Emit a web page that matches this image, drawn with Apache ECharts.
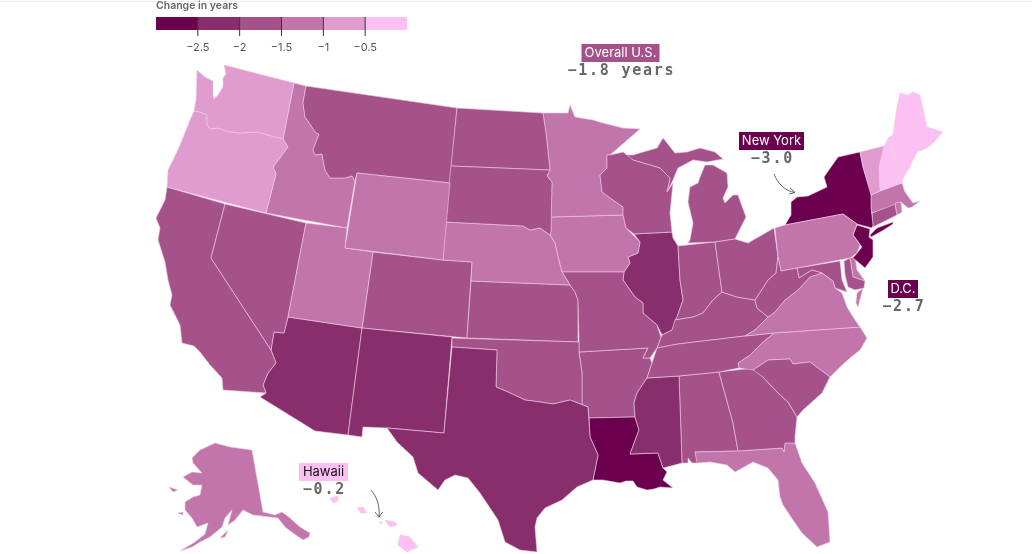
<!DOCTYPE html>
<html><head><meta charset="utf-8">
<style>html,body{margin:0;padding:0;background:#fff}#c{width:1032px;height:554px}</style>
<script src="https://cdn.jsdelivr.net/npm/echarts@6/dist/echarts.min.js"></script>
</head><body><div id="c"></div>
<script>
const stateNames=["Alabama","Alaska","Arizona","Arkansas","California","Colorado","Connecticut","Delaware","D.C.","Florida","Georgia","Hawaii","Idaho","Illinois","Indiana","Iowa","Kansas","Kentucky","Louisiana","Maine","Maryland","Massachusetts","Michigan","Minnesota","Mississippi","Missouri","Montana","Nebraska","Nevada","New Hampshire","New Jersey","New Mexico","New York","North Carolina","North Dakota","Ohio","Oklahoma","Oregon","Pennsylvania","Rhode Island","South Carolina","South Dakota","Tennessee","Texas","Utah","Vermont","Virginia","Washington","West Virginia","Wisconsin","Wyoming"];
const stateValues=[-1.7,-1.3,-2.2,-1.8,-1.8,-1.7,-1.7,-1.4,-2.7,-1.4,-1.7,-0.2,-1.3,-2.1,-1.8,-1.3,-1.7,-1.7,-2.6,-0.4,-1.9,-1.2,-1.8,-1.3,-2.2,-1.8,-1.7,-1.3,-1.8,-0.4,-2.8,-2.2,-3.0,-1.4,-1.7,-1.8,-1.7,-0.9,-1.4,-1.4,-1.7,-1.7,-1.7,-2.2,-1.3,-0.9,-1.4,-0.8,-1.8,-1.7,-1.3];
const legendTicks=[-2.5,-2,-1.5,-1,-0.5];
const legendColors=["#6b004e","#882e6c","#a6528a","#c175aa","#e09ccf","#fdc0f2"];
const legendMin=-3, legendMax=0;

// Simplified state outlines (the base map the library projects); one list per polygon.
const outlines={
"Washington":[[[224,65],[294,83],[283,139],[257,132],[240,133],[230,132],[218,128],[210,129],[207,125],[207,115],[200,112],[194,111],[196,100],[197,70],[205,77],[213,81],[213,95],[214,99],[218,95],[223,87],[223,78],[226,74]]],
"Oregon":[[[194,111],[200,112],[207,115],[207,125],[210,129],[218,128],[230,132],[240,133],[257,132],[283,139],[288,147],[273,167],[276,174],[266,213],[167,187],[168,170],[174,158],[180,145],[190,120]]],
"California":[[[167,187],[225,204],[211,258],[271,350],[276,363],[268,373],[263,385],[266,393],[223,390],[222,378],[210,365],[200,352],[194,346],[182,343],[180,325],[170,305],[172,295],[168,280],[165,262],[158,240],[160,228],[156,218],[165,200]]],
"Nevada":[[[225,204],[306,223],[288,317],[284,333],[274,332],[271,350],[211,258]]],
"Idaho":[[[294,83],[306,86],[303,103],[305,117],[316,133],[319,134],[313,150],[315,155],[322,154],[325,170],[330,178],[345,178],[352,176],[355,181],[347,228],[266,213],[276,174],[273,167],[288,147],[283,139]]],
"Montana":[[[306,86],[457,108],[450,183],[357,173],[355,181],[352,176],[345,178],[330,178],[325,170],[322,154],[315,155],[313,150],[319,134],[316,133],[305,117],[303,103]]],
"Wyoming":[[[357,173],[450,183],[443,260],[345,248]]],
"Utah":[[[306,223],[347,228],[345,248],[373,252],[362,328],[288,317]]],
"Colorado":[[[373,252],[443,260],[472,262],[467,338],[362,328]]],
"Arizona":[[[288,317],[284,333],[274,332],[271,350],[276,363],[268,373],[263,385],[266,393],[260,397],[315,431],[348,435],[362,328]]],
"New Mexico":[[[362,328],[452,337],[444,433],[388,428],[363,427],[362,437],[348,435]]],
"Texas":[[[452,347],[497,350],[496,387],[508,392],[525,400],[540,402],[553,404],[570,400],[588,407],[590,437],[598,455],[593,480],[577,487],[562,500],[545,508],[537,518],[535,527],[537,552],[520,550],[505,542],[498,520],[480,493],[468,478],[455,475],[445,480],[438,490],[418,473],[413,457],[397,442],[387,428],[444,433]]],
"Oklahoma":[[[452,338],[579,342],[579,352],[582,373],[582,405],[588,407],[570,400],[553,404],[540,402],[525,400],[508,392],[496,387],[497,350],[452,347]]],
"Kansas":[[[471,281],[570,285],[575,292],[578,300],[578,342],[467,338]]],
"Nebraska":[[[445,222],[523,226],[530,230],[540,228],[550,235],[555,243],[558,257],[562,272],[570,285],[471,281],[472,262],[443,260]]],
"South Dakota":[[[451,166],[550,170],[547,176],[552,182],[551,232],[550,235],[540,228],[530,230],[523,226],[445,222]]],
"North Dakota":[[[457,108],[543,113],[546,133],[550,170],[451,166]]],
"Minnesota":[[[543,113],[568,113],[570,105],[575,117],[593,120],[603,123],[623,128],[640,129],[625,142],[610,155],[607,155],[607,168],[600,175],[602,192],[613,200],[623,207],[623,215],[551,217],[552,182],[547,176],[550,170],[546,133]]],
"Iowa":[[[551,217],[623,215],[626,228],[640,242],[638,253],[628,257],[630,263],[624,272],[562,272],[558,257],[555,243],[550,235],[551,232]]],
"Missouri":[[[562,272],[624,272],[623,280],[635,297],[643,303],[643,313],[657,325],[661,337],[657,348],[650,358],[643,358],[648,348],[579,352],[579,342],[578,300],[575,292],[570,285]]],
"Arkansas":[[[579,352],[648,348],[643,358],[650,358],[652,363],[647,378],[637,393],[634,403],[635,417],[589,418],[588,407],[582,405],[582,373]]],
"Louisiana":[[[589,418],[635,417],[639,430],[630,454],[658,453],[663,468],[667,472],[663,480],[673,488],[660,487],[654,489],[647,490],[637,487],[633,481],[626,481],[620,483],[603,480],[593,480],[598,455],[590,437]]],
"Mississippi":[[[647,378],[679,376],[682,463],[667,467],[663,468],[658,453],[630,454],[639,430],[635,417],[634,403],[637,393]]],
"Alabama":[[[679,376],[719,372],[733,423],[738,451],[695,452],[698,463],[692,463],[688,458],[688,463],[682,463]]],
"Georgia":[[[719,372],[753,368],[763,377],[778,393],[788,402],[797,417],[795,437],[795,443],[785,443],[784,452],[782,448],[738,451],[733,423]]],
"Florida":[[[695,452],[738,451],[782,448],[784,452],[785,443],[795,443],[802,463],[815,483],[828,512],[830,542],[817,547],[802,533],[793,520],[783,505],[780,497],[778,480],[768,468],[753,462],[735,472],[727,465],[710,462],[697,463]]],
"South Carolina":[[[753,370],[768,360],[790,359],[793,364],[810,362],[830,377],[822,393],[803,410],[797,417],[788,402],[778,393],[763,377]]],
"North Carolina":[[[774,333],[860,327],[867,338],[860,350],[850,358],[840,367],[830,377],[810,362],[793,364],[790,359],[768,360],[753,370],[739,368],[738,363],[750,355],[763,342]]],
"Tennessee":[[[657,348],[678,344],[745,336],[774,333],[763,342],[750,355],[738,363],[739,368],[719,372],[679,376],[647,378],[652,363]]],
"Kentucky":[[[657,348],[678,344],[745,336],[755,330],[768,317],[757,308],[755,300],[737,297],[722,292],[713,300],[703,313],[693,317],[675,320],[672,330],[662,335],[661,337]]],
"Illinois":[[[634,234],[672,232],[673,238],[678,246],[680,280],[683,300],[677,317],[672,330],[662,335],[657,325],[643,313],[643,303],[635,297],[623,280],[624,272],[630,263],[628,257],[638,253],[640,242]]],
"Indiana":[[[678,246],[715,242],[722,292],[713,300],[703,313],[693,317],[675,320],[677,317],[683,300],[680,280]]],
"Ohio":[[[715,242],[735,239],[748,243],[774,228],[778,257],[776,273],[768,280],[763,288],[755,300],[737,297],[722,292]]],
"West Virginia":[[[755,300],[763,288],[768,280],[776,273],[778,257],[781,271],[797,268],[799,278],[812,270],[822,273],[810,277],[798,290],[785,300],[775,312],[768,317],[757,308]]],
"Virginia":[[[768,317],[775,312],[785,300],[798,290],[810,277],[822,273],[833,281],[835,288],[842,293],[847,307],[855,320],[860,327],[774,333],[745,336],[755,330]],[[857,293],[863,288],[858,307],[856,303]]],
"Maryland":[[[797,268],[840,261],[842,280],[847,292],[835,288],[833,281],[822,273],[812,270],[799,278]],[[844,261],[850,258],[853,277],[865,281],[864,288],[855,290],[848,287],[845,275]]],
"Delaware":[[[850,258],[855,257],[857,270],[865,281],[853,277]]],
"D.C.":[[[833,276],[836,275],[837,278],[834,279]]],
"Pennsylvania":[[[775,228],[785,225],[843,214],[857,224],[853,235],[860,245],[857,253],[850,258],[781,271],[778,257]]],
"New York":[[[785,225],[791,215],[791,202],[797,197],[808,196],[827,187],[824,177],[838,157],[860,152],[863,167],[871,193],[871,207],[873,225],[872,228],[857,224],[843,214]],[[870,235],[877,228],[893,222],[893,224],[882,231],[871,237]]],
"New Jersey":[[[857,225],[870,229],[869,237],[873,240],[873,257],[865,268],[858,262],[853,258],[862,247],[853,235]]],
"Connecticut":[[[872,213],[895,203],[897,215],[873,227]]],
"Rhode Island":[[[895,203],[901,202],[902,212],[897,215]]],
"Massachusetts":[[[871,195],[880,191],[902,183],[905,192],[913,203],[920,201],[912,207],[908,208],[901,202],[872,213],[871,207]]],
"Vermont":[[[860,152],[884,146],[879,167],[880,191],[871,195],[863,167]]],
"New Hampshire":[[[884,146],[888,139],[903,178],[902,183],[880,191],[879,167]]],
"Maine":[[[888,138],[893,135],[897,107],[900,93],[908,95],[913,92],[920,95],[927,127],[943,132],[933,143],[927,148],[922,150],[917,152],[913,160],[910,167],[903,178]]],
"Michigan":[[[688,243],[715,242],[735,239],[746,217],[738,195],[733,195],[725,203],[723,198],[728,187],[727,173],[713,165],[705,165],[700,177],[698,183],[690,187],[688,202],[693,223],[690,240]],[[623,155],[633,160],[660,168],[670,178],[667,192],[673,180],[678,168],[693,160],[707,162],[723,159],[715,152],[700,148],[687,152],[675,153],[663,138],[657,148],[643,152],[633,155]]],
"Wisconsin":[[[610,155],[623,152],[633,160],[660,168],[670,178],[667,192],[673,183],[670,213],[672,232],[634,234],[626,228],[623,215],[623,207],[613,200],[602,192],[600,175],[607,168],[607,155]]],
"Alaska":[[[252,450],[263,512],[275,515],[282,512],[290,518],[300,527],[310,533],[309,537],[303,540],[293,533],[285,527],[278,518],[270,517],[253,515],[243,510],[235,520],[228,525],[232,510],[225,518],[222,527],[210,537],[200,542],[192,547],[180,551],[195,542],[205,534],[208,523],[197,527],[192,518],[185,510],[185,502],[193,497],[200,495],[202,485],[193,485],[183,477],[192,472],[202,473],[193,463],[192,458],[200,450],[215,443],[230,447]],[[220,538],[228,530],[225,537]],[[169,487],[178,490],[173,492]],[[178,513],[183,512],[183,515]]],
"Hawaii":[[[400,535],[410,537],[418,547],[407,552],[398,545]],[[385,520],[395,522],[397,525],[390,527]],[[357,508],[363,507],[367,513],[361,513]],[[330,498],[338,496],[338,501],[333,503]],[[374,516],[382,517],[380,518]],[[379,522],[382,522],[381,524]]]
};

const geoJson={type:"FeatureCollection",features:stateNames.map(n=>({type:"Feature",properties:{name:n},geometry:{type:"MultiPolygon",coordinates:outlines[n].map(r=>[r.concat([r[0]])])}}))};

const fnt="Inter, 'Liberation Sans', sans-serif", mono="'DejaVu Sans Mono', monospace";
const fmt=v=>String(v).replace("-","\u2212");
const bounds=[legendMin,...legendTicks,legendMax];
const barX=156, barW=251, barY=17, barH=13;
const sx=v=>barX+(v-legendMin)/(legendMax-legendMin)*barW;

const gfx=[{type:"rect",shape:{x:0,y:1,width:1032,height:1},style:{fill:"#eeeeee"}},
 {type:"text",style:{x:156,y:6,text:"Change in years",font:"600 10.5px "+fnt,fill:"#666",textAlign:"left",textVerticalAlign:"middle"}}];
legendColors.forEach((c,i)=>gfx.push({type:"rect",shape:{x:sx(bounds[i]),y:barY,width:sx(bounds[i+1])-sx(bounds[i]),height:barH},style:{fill:c}}));
legendTicks.forEach(t=>{
 gfx.push({type:"line",shape:{x1:sx(t),y1:barY,x2:sx(t),y2:36},style:{stroke:"#333",lineWidth:1}});
 gfx.push({type:"text",style:{x:sx(t),y:48,text:fmt(t),font:"11px "+fnt,fill:"#555",textAlign:"center",textVerticalAlign:"middle"}});
});
function note(name,val,suffix,cx,y0,w,bg,fg){
 gfx.push({type:"rect",z:20,shape:{x:cx-w/2,y:y0,width:w,height:18},style:{fill:bg}});
 gfx.push({type:"text",z:21,style:{x:cx,y:y0+9.5,text:name,font:"13px "+fnt,fill:fg,textAlign:"center",textVerticalAlign:"middle"}});
 // The figure keeps its own character pitch, wider than the installed mono font.
 const s=fmt(val)+suffix, pitch=10.8, x0=cx-(s.length-1)*pitch/2;
 gfx.push({type:"group",z:21,children:[...s].map((ch,i)=>({type:"text",z:21,style:{x:x0+i*pitch,y:y0+27,text:ch,font:"bold 15px "+mono,fill:"#666",textAlign:"center",textVerticalAlign:"middle"}}))});
}
const cIdx=n=>{const v=stateValues[stateNames.indexOf(n)];let i=0;while(i<legendTicks.length&&v>=legendTicks[i])i++;return legendColors[i];};
note("Overall U.S.","-1.8"," years",620.5,44,78,legendColors[2],"#fff");
note("New York","-3.0","",771.5,132,65,cIdx("New York"),"#fff");
note("D.C.","-2.7","",903,280,30,cIdx("D.C."),"#fff");
note("Hawaii","-0.2","",323.5,463,49,cIdx("Hawaii"),"#111");
const arrow=(s,c1,c2,e,h1,h2)=>{
 gfx.push({type:"bezierCurve",z:21,shape:{x1:s[0],y1:s[1],cpx1:c1[0],cpy1:c1[1],cpx2:c2[0],cpy2:c2[1],x2:e[0],y2:e[1]},style:{stroke:"#555",lineWidth:0.9,fill:null}});
 gfx.push({type:"polyline",z:21,shape:{points:[h1,e,h2]},style:{stroke:"#555",lineWidth:0.9,fill:null}});
};
arrow([774,174],[778,184],[785,191],[795,192.5],[790,188],[789,194]);
arrow([371,490],[377,497],[380,506],[379,517],[375,512],[382.5,512]);

echarts.registerMap("us",geoJson);
const chart=echarts.init(document.getElementById("c"),null,{renderer:"canvas"});
chart.setOption({
 animation:false,
 graphic:gfx,
 visualMap:{show:false,type:"piecewise",seriesIndex:0,pieces:legendColors.map((c,i)=>({gte:bounds[i],lt:bounds[i+1],color:c}))},
 series:[{type:"map",map:"us",silent:true,roam:false,label:{show:false},
  projection:{project:p=>[p[0],p[1]],unproject:p=>[p[0],p[1]]},
  boundingCoords:[[0,0],[1032,554]],left:0,top:0,width:1032,height:554,
  itemStyle:{borderColor:"#eccbe3",borderWidth:0.6,areaColor:"#ccc"},
  data:stateNames.map((n,i)=>({name:n,value:stateValues[i]}))}]
});
</script></body></html>
